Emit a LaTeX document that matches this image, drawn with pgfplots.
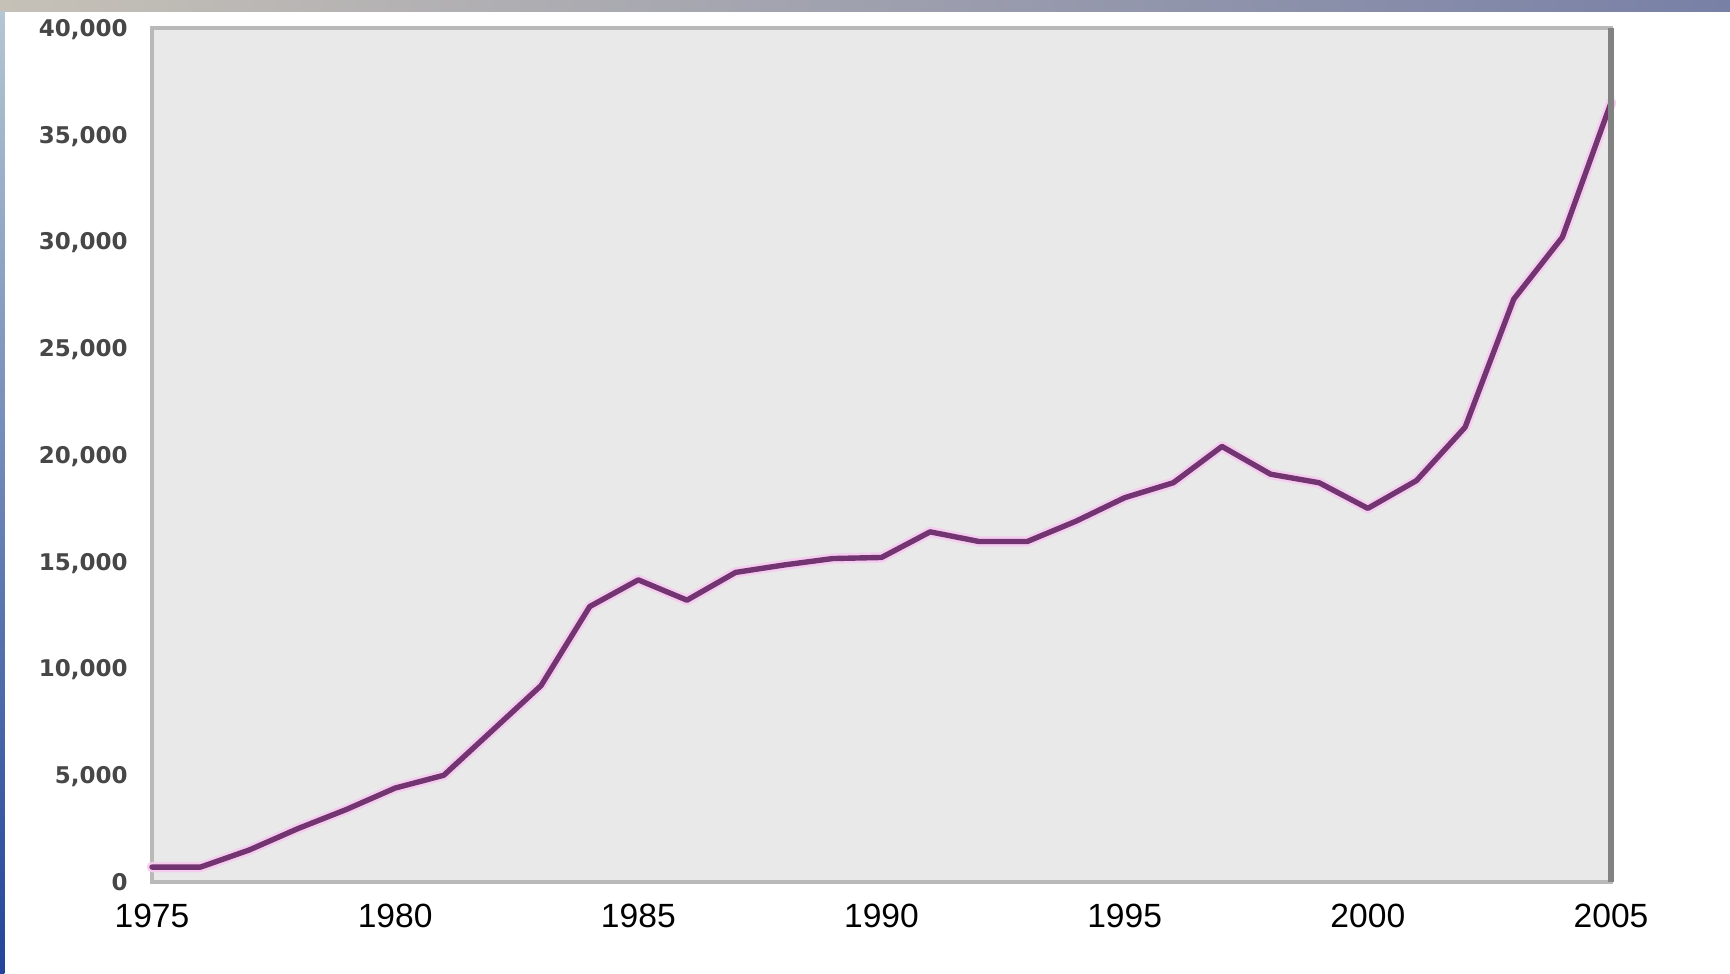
\documentclass[border=0pt]{standalone}
\usepackage{pgfplots}
\pgfplotsset{compat=1.18}
\usepackage{fontspec}
\setmainfont{Liberation Sans}
\newfontfamily\yfont{DejaVu Sans}
\definecolor{plotbg}{HTML}{E9E9E9}
\definecolor{framelight}{HTML}{B9B9B9}
\definecolor{framedark}{HTML}{828282}
\definecolor{linecore}{HTML}{733571}
\definecolor{linehalo}{HTML}{F4CDEF}
\definecolor{ylab}{HTML}{474747}
\definecolor{bandL}{HTML}{C6C1B7}
\definecolor{bandR}{HTML}{7880A6}
\definecolor{stripT}{HTML}{B4C6D2}
\definecolor{stripB}{HTML}{23449A}

\pgfplotstableread{
year value
1975 700
1976 700
1977 1500
1978 2500
1979 3400
1980 4400
1981 5000
1982 7100
1983 9200
1984 12900
1985 14150
1986 13200
1987 14500
1988 14850
1989 15150
1990 15200
1991 16400
1992 15950
1993 15950
1994 16900
1995 18000
1996 18700
1997 20400
1998 19100
1999 18700
2000 17500
2001 18800
2002 21300
2003 27300
2004 30200
2005 36500
}\datatable

\begin{document}
\begin{tikzpicture}
\path[use as bounding box] (0,0) rectangle (865pt,487pt);
\fill[white] (0,0) rectangle (865pt,487pt);
\shade[left color=bandL, right color=bandR] (0,481pt) rectangle (865pt,487pt);
\shade[top color=stripT, bottom color=stripB] (0,0) rectangle (2.2pt,481pt);
\begin{axis}[
  at={(76pt,46pt)}, anchor=south west,
  scale only axis, width=729.5pt, height=427pt,
  xmin=1975, xmax=2005, ymin=0, ymax=40000,
  scaled x ticks=false, scaled y ticks=false,
  axis background/.style={fill=plotbg},
  axis line style={framelight, line width=2.4pt},
  major tick length=0pt,
  xtick={1975,1980,1985,1990,1995,2000,2005},
  xticklabels={1975,1980,1985,1990,1995,2000,2005},
  ytick={0,5000,10000,15000,20000,25000,30000,35000,40000},
  yticklabels={0,{5,000},{10,000},{15,000},{20,000},{25,000},{30,000},{35,000},{40,000}},
  xticklabel style={anchor=north, inner sep=0pt, yshift=-11pt, font=\fontsize{16.8}{18}\selectfont, text=black},
  yticklabel style={anchor=east, inner sep=0pt, xshift=-12pt, font=\yfont\bfseries\fontsize{11.5}{13}\selectfont, text=ylab, text height=8.4pt, text depth=0pt},
  clip=false,
]
\addplot[linehalo, line width=5.2pt, line join=round, line cap=round] table[x=year, y=value] {\datatable};
\addplot[linecore, line width=2.7pt, line join=round, line cap=round] table[x=year, y=value] {\datatable};
\draw[framedark, line width=2.6pt] (rel axis cs:1,0) -- (rel axis cs:1,1);
\end{axis}
\end{tikzpicture}
\end{document}
